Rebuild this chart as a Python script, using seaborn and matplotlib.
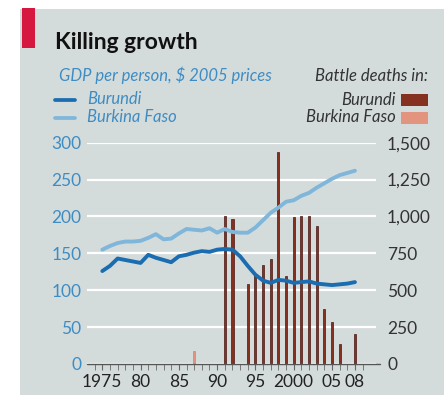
import matplotlib
matplotlib.use("Agg")
import matplotlib.pyplot as plt
from matplotlib.patches import Rectangle
from matplotlib.lines import Line2D
from matplotlib.ticker import FixedLocator
import seaborn as sns
import pandas as pd

# GDP per person, $ 2005 prices
years = list(range(1975, 2009))
gdp_burundi = [126, 133, 143, 141, 139, 137, 148, 144, 141, 138,
               146, 148, 151, 153, 152, 155, 156, 155, 146, 133,
               121, 113, 110, 114, 113, 110, 111, 112, 109, 108,
               107, 108, 109, 111]
gdp_burkina = [155, 160, 164, 166, 166, 167, 171, 176, 169, 170,
               177, 183, 182, 181, 184, 178, 183, 179, 178, 178,
               185, 195, 205, 212, 220, 222, 228, 232, 239, 245,
               251, 256, 259, 262]

# Battle deaths
death_years_burundi = [1991, 1992, 1994, 1995, 1996, 1997, 1998, 1999,
                       2000, 2001, 2002, 2003, 2004, 2005, 2006, 2008]
deaths_burundi = [1000, 985, 545, 608, 672, 710, 1440, 597,
                  995, 1000, 1000, 936, 374, 284, 137, 203]
death_years_burkina = [1987]
deaths_burkina = [85]

xtick_years = [1975, 1980, 1985, 1990, 1995, 2000, 2005, 2008]
xtick_labels = ["1975", "80", "85", "90", "95", "2000", "05", "08"]
left_ticks = [0, 50, 100, 150, 200, 250, 300]
right_ticks = [0, 250, 500, 750, 1000, 1250, 1500]

sns.set_style("white")
plt.rcParams["font.family"] = ["Lato", "DejaVu Sans"]

W, H = 444, 395
PANEL = "#d4dcdb"
DARK_BLUE = "#1b6db1"
LIGHT_BLUE = "#80b6da"
BAR_BURUNDI = "#86301f"
BAR_BURKINA = "#e2947f"
LEFT_TXT = "#3e8cc4"
RIGHT_TXT = "#333333"
LEG_SIZE = 12
TICK_SIZE = 12.5

fig = plt.figure(figsize=(W / 100, H / 100), dpi=100)
fig.patch.set_facecolor("white")
fig.patches.append(Rectangle((20 / W, 0), 1, 1 - 9 / H, transform=fig.transFigure,
                             facecolor=PANEL, edgecolor="none", zorder=-5))
fig.patches.append(Rectangle((22 / W, 1 - 48 / H), 13 / W, 40 / H, transform=fig.transFigure,
                             facecolor="#d6173f", edgecolor="none", zorder=-4))

ax = fig.add_axes([87 / W, 31 / H, (376 - 87) / W, (364 - 142.7) / H])
ax.set_facecolor("none")

deaths_df = pd.DataFrame({
    "year": death_years_burundi + death_years_burkina,
    "deaths": deaths_burundi + deaths_burkina,
    "country": ["Burundi"] * len(deaths_burundi) + ["Burkina Faso"] * len(deaths_burkina),
})
sns.barplot(data=deaths_df, x="year", y="deaths", hue="country", native_scale=True,
            dodge=False, width=0.28, legend=False, ax=ax, errorbar=None,
            palette={"Burundi": BAR_BURUNDI, "Burkina Faso": BAR_BURKINA},
            edgecolor="#4a1812", linewidth=0.5, saturation=1, zorder=3)
for p in ax.patches:
    if abs(p.get_x() + p.get_width() / 2 - 1987) < 0.3:
        p.set_edgecolor("#e07a8a")

ax2 = ax.twinx()
ax2.set_facecolor("none")
gdp_df = pd.DataFrame({
    "year": years + years,
    "gdp": gdp_burundi + gdp_burkina,
    "country": ["Burundi"] * len(years) + ["Burkina Faso"] * len(years),
})
sns.lineplot(data=gdp_df, x="year", y="gdp", hue="country", legend=False, ax=ax2,
             palette={"Burundi": DARK_BLUE, "Burkina Faso": LIGHT_BLUE},
             linewidth=2.8, solid_joinstyle="round", zorder=5)

# axes limits and ticks
ax.set_xlim(1973.0, 2010.75)
ax.set_ylim(0, 1500)
ax2.set_ylim(0, 300)
for a in (ax, ax2):
    a.set_xlabel("")
    a.set_ylabel("")
    for s in a.spines.values():
        s.set_visible(False)

ax.yaxis.tick_right()
ax2.yaxis.tick_left()
ax.set_yticks(right_ticks)
ax.set_yticklabels([f"{v:,}" for v in right_ticks])
ax2.set_yticks(left_ticks)
ax2.set_yticklabels([str(v) for v in left_ticks])
ax.tick_params(axis="y", length=0, pad=8, labelsize=TICK_SIZE, labelcolor=RIGHT_TXT)
ax2.tick_params(axis="y", length=0, pad=4, labelsize=TICK_SIZE, labelcolor=LEFT_TXT)

ax.xaxis.set_major_locator(FixedLocator(xtick_years))
ax.set_xticklabels(xtick_labels)
ax.xaxis.set_minor_locator(FixedLocator(list(range(1974, 2010))))
ax.tick_params(axis="x", which="both", bottom=True, direction="out")
ax.tick_params(axis="x", which="major", length=4.5, width=0.8, color="#666666",
               pad=3, labelsize=TICK_SIZE, labelcolor="#222222")
ax.tick_params(axis="x", which="minor", length=4, width=0.7, color="#777777")

# white gridlines behind the bars, dark baseline at zero
ax.set_axisbelow(True)
ax.grid(True, axis="y", color="white", linewidth=1.6)
ax.grid(False, axis="x")
ax.add_line(Line2D([1973.0, 2011.3], [0, 0], color="#555555", lw=1.0, zorder=4,
                   clip_on=False))

# title and legends
fig.text(55 / W, 1 - 49 / H, "Killing growth", fontsize=16.5, fontweight="bold",
         color="#111111", va="baseline", ha="left")
fig.text(59 / W, 1 - 81 / H, "GDP per person, $ 2005 prices", fontsize=LEG_SIZE,
         style="italic", color=LEFT_TXT, va="baseline", ha="left")
for yy, label, col in [(99.5, "Burundi", DARK_BLUE), (117.5, "Burkina Faso", LIGHT_BLUE)]:
    fig.lines.append(Line2D([55 / W, 75 / W], [1 - yy / H, 1 - yy / H], color=col, lw=2.7,
                            transform=fig.transFigure))
    fig.text(87 / W, 1 - (yy + 4.5) / H, label, fontsize=LEG_SIZE, style="italic",
             color=LEFT_TXT, va="baseline", ha="left")

fig.text(428 / W, 1 - 81 / H, "Battle deaths in:", fontsize=LEG_SIZE, style="italic",
         color=RIGHT_TXT, va="baseline", ha="right")
for yy, label, col in [(100, "Burundi", BAR_BURUNDI), (118, "Burkina Faso", BAR_BURKINA)]:
    fig.patches.append(Rectangle((401 / W, 1 - (yy + 6) / H), 27 / W, 12 / H,
                                 transform=fig.transFigure, facecolor=col,
                                 edgecolor="none", zorder=2))
    fig.text(396 / W, 1 - (yy + 4.5) / H, label, fontsize=LEG_SIZE, style="italic",
             color=RIGHT_TXT, va="baseline", ha="right")

fig.savefig("out.png", dpi=100)
